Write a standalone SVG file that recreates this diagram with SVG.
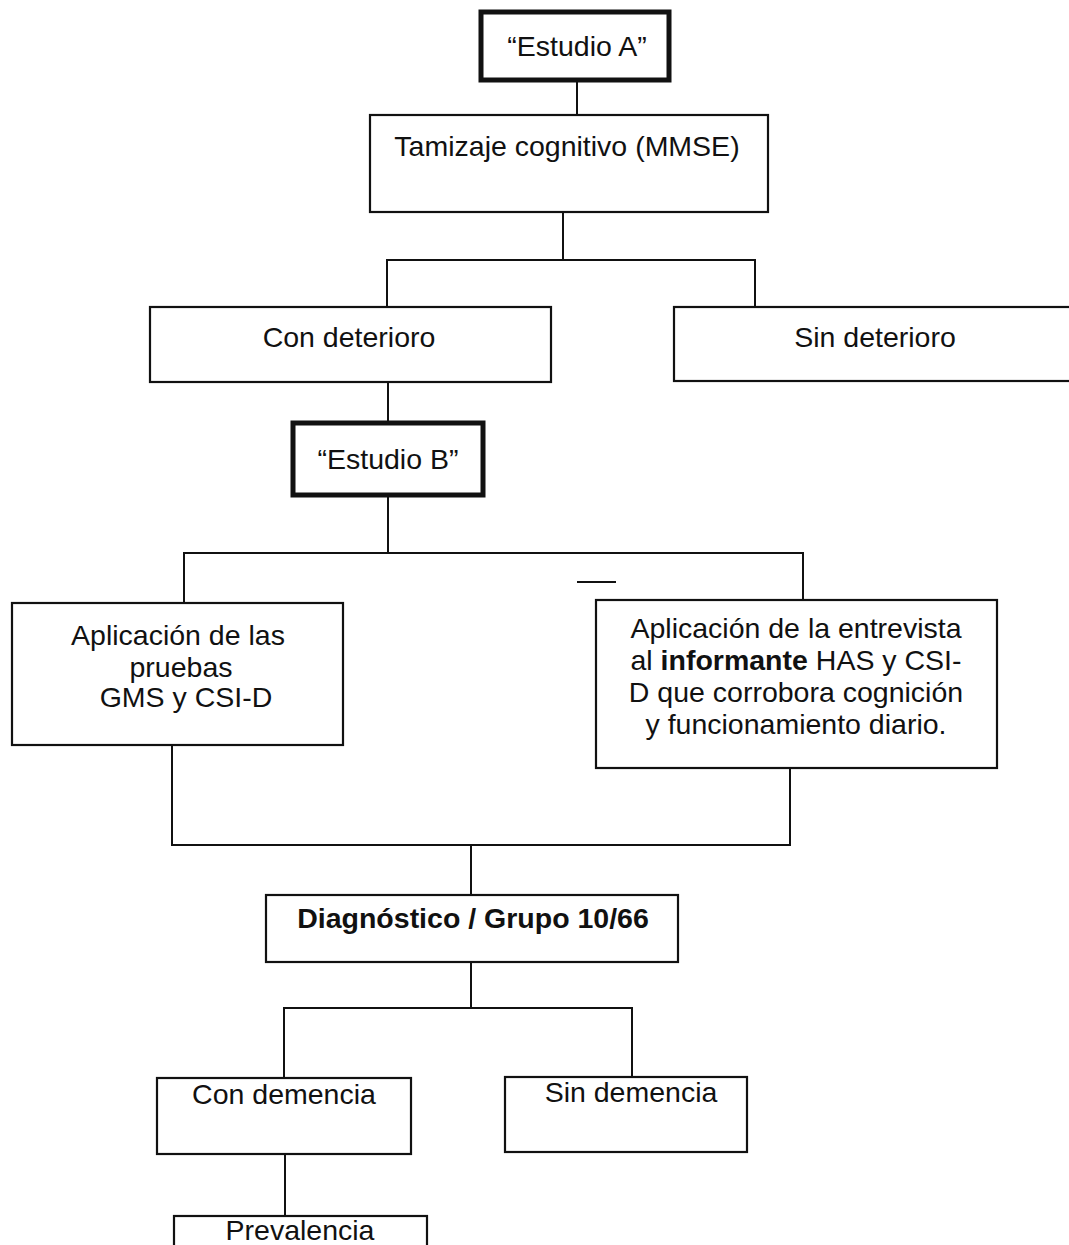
<svg xmlns="http://www.w3.org/2000/svg" width="1069" height="1245" viewBox="0 0 1069 1245">
<style>
  .box { fill: #ffffff; stroke: #111111; stroke-width: 2.2; }
  .thick { fill: #ffffff; stroke: #111111; stroke-width: 5; }
  .conn { fill: none; stroke: #111111; stroke-width: 2; }
  text { font-family: "Liberation Sans", Arial, Helvetica, sans-serif; font-size: 28.5px; fill: #111111; text-anchor: middle; }
  .b { font-weight: bold; }
</style>
<rect x="0" y="0" width="1069" height="1245" fill="#ffffff"/>
<g id="connectors">
  <path class="conn" d="M577 82 V115"/>
  <path class="conn" d="M563 212 V260 M387 307 V260 H755 V307"/>
  <path class="conn" d="M388 382 V423"/>
  <path class="conn" d="M388 495 V553 M184 603 V553 H803 V600"/>
  <path class="conn" d="M172 745 V845 H790 V768 M471 845 V895"/>
  <path class="conn" d="M471 962 V1008 M284 1078 V1008 H632 V1077"/>
  <path class="conn" d="M285 1154 V1216"/>
  <path class="conn" d="M577 582 H616" stroke-width="1.5"/>
</g>
<g id="estudio-a">
  <rect class="thick" x="481" y="12" width="188" height="68"/>
  <text x="577" y="56">“Estudio A”</text>
</g>
<g id="tamizaje">
  <rect class="box" x="370" y="115" width="398" height="97"/>
  <text x="567" y="156">Tamizaje cognitivo (MMSE)</text>
</g>
<g id="con-deterioro">
  <rect class="box" x="150" y="307" width="401" height="75"/>
  <text x="349" y="347">Con deterioro</text>
</g>
<g id="sin-deterioro">
  <rect class="box" x="674" y="307" width="410" height="74"/>
  <text x="875" y="347">Sin deterioro</text>
</g>
<g id="estudio-b">
  <rect class="thick" x="293" y="423" width="190" height="72"/>
  <text x="388" y="469">“Estudio B”</text>
</g>
<g id="pruebas">
  <rect class="box" x="12" y="603" width="331" height="142"/>
  <text x="178" y="645">Aplicación de las</text>
  <text x="181" y="677">pruebas</text>
  <text x="186" y="707">GMS y CSI-D</text>
</g>
<g id="entrevista">
  <rect class="box" x="596" y="600" width="401" height="168"/>
  <text x="796" y="638">Aplicación de la entrevista</text>
  <text x="796" y="670">al <tspan class="b">informante</tspan> HAS y CSI-</text>
  <text x="796" y="702">D que corrobora cognición</text>
  <text x="796" y="734">y funcionamiento diario.</text>
</g>
<g id="diagnostico">
  <rect class="box" x="266" y="895" width="412" height="67"/>
  <text class="b" x="473" y="928">Diagnóstico / Grupo 10/66</text>
</g>
<g id="con-demencia">
  <rect class="box" x="157" y="1078" width="254" height="76"/>
  <text x="284" y="1104">Con demencia</text>
</g>
<g id="sin-demencia">
  <rect class="box" x="505" y="1077" width="242" height="75"/>
  <text x="631" y="1102">Sin demencia</text>
</g>
<g id="prevalencia">
  <rect class="box" x="174" y="1216" width="253" height="40"/>
  <text x="300" y="1240">Prevalencia</text>
</g>
</svg>
